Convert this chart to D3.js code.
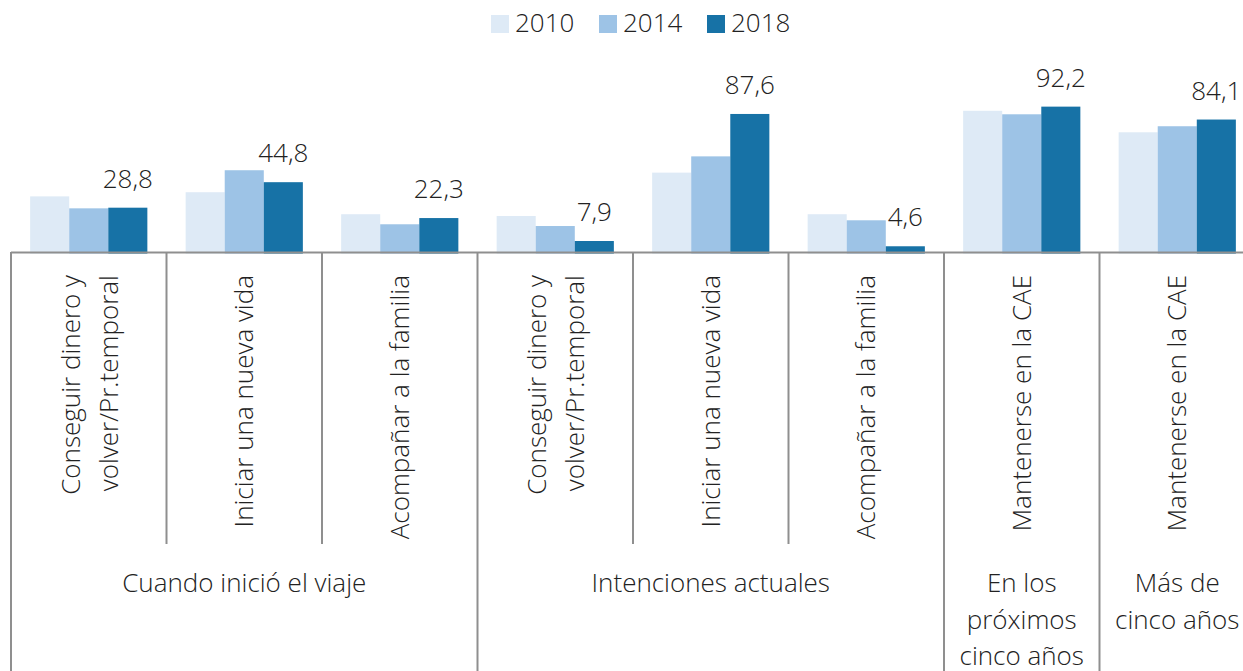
<!DOCTYPE html>
<html>
<head>
<meta charset="utf-8">
<script src="https://cdn.jsdelivr.net/npm/d3@7"></script>
<style>
  body { margin: 0; background: #fff; }
  svg { display: block; font-family: 'Open Sans', sans-serif; font-weight: 300; }
</style>
</head>
<body>
<div id="chart"></div>
<script>
// chart data
const years = ['2010', '2014', '2018'];
const categories = [
  ['Conseguir dinero y', 'volver/Pr.temporal'],
  ['Iniciar una nueva vida'],
  ['Acompañar a la familia'],
  ['Conseguir dinero y', 'volver/Pr.temporal'],
  ['Iniciar una nueva vida'],
  ['Acompañar a la familia'],
  ['Mantenerse en la CAE'],
  ['Mantenerse en la CAE'],
];
const values2010 = [35.9, 38.5, 24.7, 23.6, 50.8, 24.7, 89.6, 76.1];
const values2014 = [28.4, 52.3, 18.4, 17.3, 61.0, 20.9, 87.4, 79.9];
const values2018 = [28.8, 44.8, 22.3, 7.9, 87.6, 4.6, 92.2, 84.1];
const groups = [
  { label: ['Cuando inició el viaje'], start: 0, end: 3 },
  { label: ['Intenciones actuales'], start: 3, end: 6 },
  { label: ['En los', 'próximos', 'cinco años'], start: 6, end: 7 },
  { label: ['Más de', 'cinco años'], start: 7, end: 8 },
];

const colors = ['#deeaf6', '#9dc3e6', '#1772a6'];
const series = [values2010, values2014, values2018];

const width = 1243;
const height = 671;
const axisColor = '#8f8f8f';
const textColor = '#222';

const svg = d3.select('#chart').append('svg')
  .attr('width', width)
  .attr('height', height);

// scales
const x = d3.scaleBand()
  .domain(d3.range(categories.length))
  .range([11, 11 + 155.5 * categories.length])
  .padding(0);

const xInner = d3.scaleBand()
  .domain(years)
  .range([0, x.bandwidth()])
  .paddingInner(0)
  .paddingOuter(0.49);

const y = d3.scaleLinear()
  .domain([0, 100])
  .range([253.6, 94.2]);

// bars
years.forEach((year, s) => {
  svg.append('g')
    .selectAll('rect')
    .data(series[s])
    .join('rect')
      .attr('x', (d, i) => x(i) + xInner(year))
      .attr('y', d => y(d))
      .attr('width', xInner.bandwidth())
      .attr('height', d => y(0) - y(d))
      .attr('fill', colors[s]);
});

// value labels on 2018
svg.append('g')
  .selectAll('text')
  .data(values2018)
  .join('text')
    .attr('x', (d, i) => x(i) + xInner('2018') + xInner.bandwidth() / 2)
    .attr('y', d => y(d) - 20)
    .attr('text-anchor', 'middle')
    .attr('font-size', '26px')
    .attr('fill', textColor)
    .text(d => d.toFixed(1).replace('.', ','));

// axis line
svg.append('line')
  .attr('x1', x.range()[0])
  .attr('x2', x.range()[1])
  .attr('y1', 252.5)
  .attr('y2', 252.5)
  .attr('stroke', axisColor)
  .attr('stroke-width', 2);

// separators: short ones between categories, long ones at group edges
const groupEdges = new Set(groups.flatMap(g => [g.start, g.end]));
d3.range(categories.length + 1).forEach(i => {
  const xx = i < categories.length ? x(i) : x.range()[1];
  svg.append('line')
    .attr('x1', xx)
    .attr('x2', xx)
    .attr('y1', 252)
    .attr('y2', groupEdges.has(i) ? height : 544)
    .attr('stroke', axisColor)
    .attr('stroke-width', 2);
});

// rotated category labels
categories.forEach((lines, i) => {
  const cx = x(i) + x.bandwidth() / 2;
  const offsets = lines.length === 1 ? [0] : [-18, 20];
  lines.forEach((line, k) => {
    svg.append('text')
      .attr('transform', `translate(${cx + offsets[k]},275) rotate(-90)`)
      .attr('text-anchor', 'end')
      .attr('dy', '0.35em')
      .attr('font-size', '26px')
      .attr('fill', textColor)
      .text(line);
  });
});

// group labels
groups.forEach(g => {
  const cx = (x(g.start) + (g.end < categories.length ? x(g.end) : x.range()[1])) / 2;
  g.label.forEach((line, k) => {
    svg.append('text')
      .attr('x', cx)
      .attr('y', 592 + k * 36.5)
      .attr('text-anchor', 'middle')
      .attr('font-size', '26px')
      .attr('fill', textColor)
      .text(line);
  });
});

// legend
const legend = svg.append('g');
years.forEach((year, s) => {
  const lx = 491 + s * 108;
  legend.append('rect')
    .attr('x', lx)
    .attr('y', 15)
    .attr('width', 18)
    .attr('height', 18)
    .attr('fill', colors[s]);
  legend.append('text')
    .attr('x', lx + 24)
    .attr('y', 32)
    .attr('font-size', '26px')
    .attr('fill', textColor)
    .text(year);
});
</script>
</body>
</html>
